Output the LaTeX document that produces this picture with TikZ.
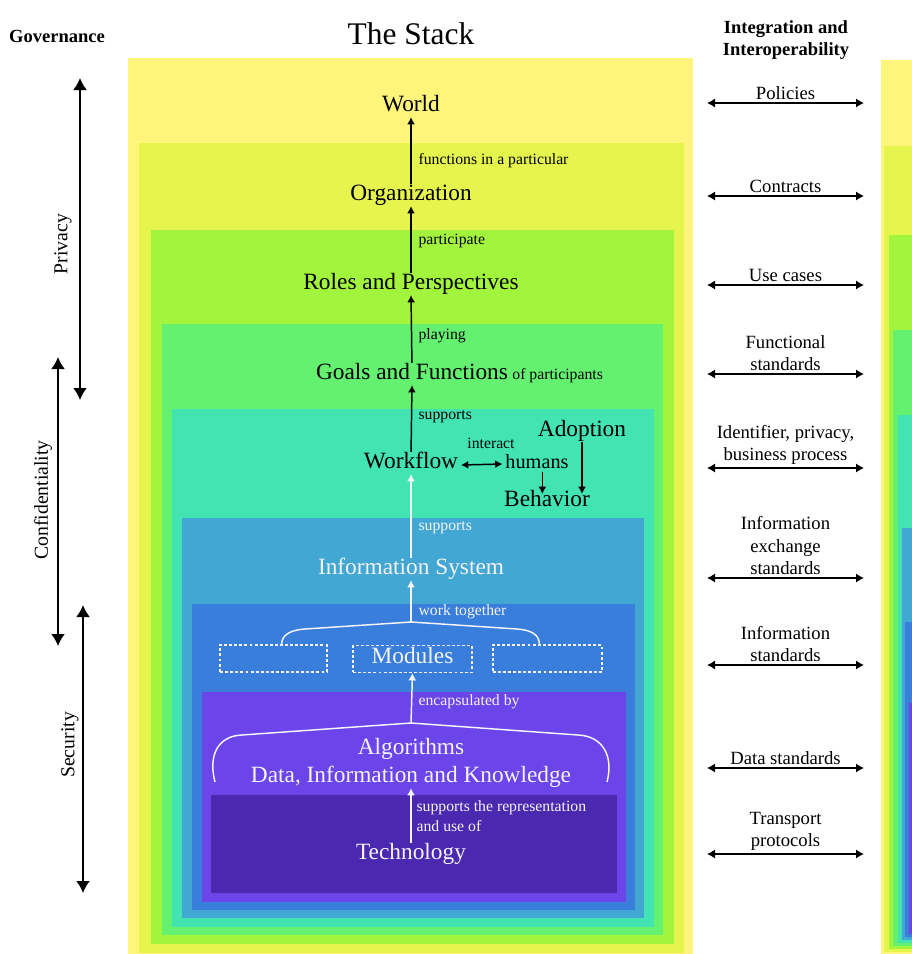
\documentclass[tikz,border=0pt]{standalone}
\usepackage{fontspec}
\setmainfont{Liberation Serif}
\usetikzlibrary{arrows.meta,positioning,calc}

\definecolor{layerA}{HTML}{FEF57A}
\definecolor{layerB}{HTML}{E6F44E}
\definecolor{layerC}{HTML}{A2F43C}
\definecolor{layerD}{HTML}{64F170}
\definecolor{layerE}{HTML}{42E4B2}
\definecolor{layerF}{HTML}{42A7D2}
\definecolor{layerG}{HTML}{3A7EDC}
\definecolor{layerH}{HTML}{6B45EA}
\definecolor{layerI}{HTML}{4A28B0}
\definecolor{lighttext}{HTML}{F4F4F8}

\tikzset{
  stacktext/.style={font=\fontsize{17.5pt}{21pt}\selectfont, text height=0.7em, text depth=0.22em, inner sep=2pt},
  edgetext/.style={font=\fontsize{11.8pt}{14.5pt}\selectfont, anchor=west, inner sep=1pt, align=left},
  flowarrow/.style={line width=1.1pt, -{Latex[length=5.5pt,width=6pt]}, shorten <=3pt},
  modbox/.style={draw=lighttext, line width=1.1pt, dash pattern=on 2.2pt off 1.6pt, minimum height=20pt, inner sep=0pt},
  bracket/.style={draw=lighttext, line width=1.1pt},
  govtext/.style={font=\fontsize{14.8pt}{17pt}\selectfont, rotate=90, inner sep=0pt},
  govarrow/.style={line width=1.5pt, {Latex[length=9pt,width=10.5pt]}-{Latex[length=9pt,width=10.5pt]}},
  iitext/.style={font=\fontsize{14pt}{16.8pt}\selectfont, align=center, anchor=south, inner sep=0pt},
  iiarrow/.style={line width=1.3pt, {Latex[length=6pt,width=7pt]}-{Latex[length=6pt,width=7pt]}},
  headtext/.style={font=\fontsize{13.9pt}{17pt}\selectfont\bfseries, align=center}
}

\begin{document}
\begin{tikzpicture}[x=0.75pt, y=-0.75pt]
  \useasboundingbox (0,0) rectangle (912,954);

  % the nested layers of the stack
  \foreach \l/\t/\r/\b/\c in {128/58/693/954/layerA, 139/143/684/953/layerB,
      151/230/674/944/layerC, 162/324/663/935/layerD, 172/409/654/927/layerE,
      182/518/644/918/layerF, 192/604/635/910/layerG, 202/692/626/902/layerH,
      211/795/617/893/layerI}
    \fill[\c] (\l,\t) rectangle (\r,\b);

  % second stack, cut off at the right edge
  \foreach \l/\t/\b/\c in {881/60/954/layerA, 884/146/952/layerB,
      889/235/949/layerC, 893/330/946/layerD, 898/415/943/layerE,
      902/528/940/layerF, 905/622/937/layerG, 909/703/934/layerH}
    \fill[\c] (\l,\t) rectangle (912,\b);

  % headings
  \node (govhead) [headtext] at (57,36) {Governance};
  \node (stackhead) [font=\fontsize{23.6pt}{28pt}\selectfont] at (411,34) {The Stack};
  \node (iihead) [headtext] at (786,40) {Integration and\\Interoperability};

  % the stack
  \node (world) [stacktext] at (411,108) {World};
  \node (org) [stacktext] at (411,197) {Organization};
  \node (roles) [stacktext] at (411,286) {Roles and Perspectives};
  \node (goals) [stacktext] at (412,376) {Goals and Functions};
  \node (goalsof) [edgetext, anchor=base west] at (goals.base east) {of participants};
  \node (workflow) [stacktext] at (411,465) {Workflow};
  \node (humans) [stacktext, font=\fontsize{15.2pt}{18pt}\selectfont, text depth=0pt] at (537,464) {humans};
  \node (adoption) [stacktext] at (582,433) {Adoption};
  \node (behavior) [stacktext] at (547,503) {Behavior};
  \node (infosys) [stacktext, text=lighttext] at (411,571) {Information System};
  \node (modleft) [modbox, minimum width=80pt] at (273.5,658.5) {};
  \node (modules) [modbox, stacktext, inner sep=0pt, text depth=0pt, minimum width=89pt, text=lighttext] at (412.5,659) {Modules};
  \node (modright) [modbox, minimum width=82pt] at (547.5,658.5) {};
  \node (algo) [stacktext, text=lighttext] at (411,751) {Algorithms};
  \node (data) [stacktext, text=lighttext] at (411,779) {Data, Information and Knowledge};
  \node (tech) [stacktext, text=lighttext] at (411,856) {Technology};

  \coordinate (modapex) at (411,622);
  \coordinate (algoapex) at (411,723);
  \coordinate (algoleft) at (215,782);
  \coordinate (algoright) at (607,782);

  \draw[flowarrow] (org.north) -- (world.south);
  \draw[flowarrow] (roles.north) -- (org.south);
  \draw[flowarrow] (goals.north) -- (roles.south);
  \draw[flowarrow] (workflow.north) -- (goals.south);
  \draw[flowarrow, {Latex[length=5.5pt,width=6pt]}-{Latex[length=5.5pt,width=6pt]}, shorten <=0pt] (workflow.east) -- (humans.west);
  \draw[flowarrow, shorten <=0pt] ([xshift=4pt]humans.south) -- ([xshift=4pt]humans.south |- behavior.north);
  \draw[flowarrow, shorten <=0pt] (adoption.south) -- (adoption.south |- behavior.north);
  \draw[flowarrow, draw=lighttext, fill=lighttext] (infosys.north) -- (workflow.south);
  \draw[flowarrow, draw=lighttext, fill=lighttext, shorten <=0pt] (modapex) -- (infosys.south);
  \draw[flowarrow, draw=lighttext, fill=lighttext, shorten <=0pt] (algoapex) -- (modules.south);
  \draw[flowarrow, draw=lighttext, fill=lighttext] (tech.north) -- (data.south);

  % brackets
  \draw[bracket] (modleft.60) .. controls +(0,-10) and +(-14,1) .. (305,629) -- (modapex)
    -- (517,629) .. controls +(14,1) and +(0,-10) .. (modright.120);
  \draw[bracket] (algoleft) .. controls +(-7,-27) and +(-24,1) .. (242,735) -- (algoapex)
    -- (578,735) .. controls +(24,1) and +(7,-27) .. (algoright);

  % labels on the arrows
  \node (lblfunc) [edgetext] at (417,161) {functions in a particular};
  \node (lblpart) [edgetext] at (417,241) {participate};
  \node (lblplay) [edgetext] at (417,336) {playing};
  \node (lblsup) [edgetext] at (417,417) {supports};
  \node (lblint) [edgetext, anchor=center] at (491,443) {interact};
  \node (lblsupis) [edgetext, text=lighttext] at (417,528) {supports};
  \node (lblwork) [edgetext, text=lighttext] at (417,612) {work together};
  \node (lblenc) [edgetext, text=lighttext] at (417,702) {encapsulated by};
  \node (lblrep) [edgetext, text=lighttext] at (415,816) {supports the representation\\and use of};

  % governance
  \coordinate (privtop) at (80,78);
  \coordinate (privbot) at (80,400);
  \coordinate (conftop) at (58,357);
  \coordinate (confbot) at (58,646);
  \coordinate (sectop) at (83,605);
  \coordinate (secbot) at (83,893);
  \draw[govarrow] (privtop) -- (privbot);
  \draw[govarrow] (conftop) -- (confbot);
  \draw[govarrow] (sectop) -- (secbot);
  \node (privacy) [govtext] at (63,244) {Privacy};
  \node (confid) [govtext] at (43,500) {Confidentiality};
  \node (security) [govtext] at (70,745) {Security};

  % integration and interoperability
  \foreach \y/\txt/\nm in {103/Policies/pol, 196/Contracts/con, 285/Use cases/use,
      374/{Functional\\standards}/fun, 468/{Identifier, privacy,\\business process}/idf,
      578/{Information\\exchange\\standards}/iex, 665/{Information\\standards}/inf,
      768/Data standards/dat, 854/{Transport\\protocols}/tra} {
    \coordinate (\nm-l) at (707,\y);
    \coordinate (\nm-r) at (864,\y);
    \draw[iiarrow] (\nm-l) -- (\nm-r);
    \node (\nm) [iitext] at ($(\nm-l)!0.5!(\nm-r)+(0,-3)$) {\txt};
  }
\end{tikzpicture}
\end{document}
